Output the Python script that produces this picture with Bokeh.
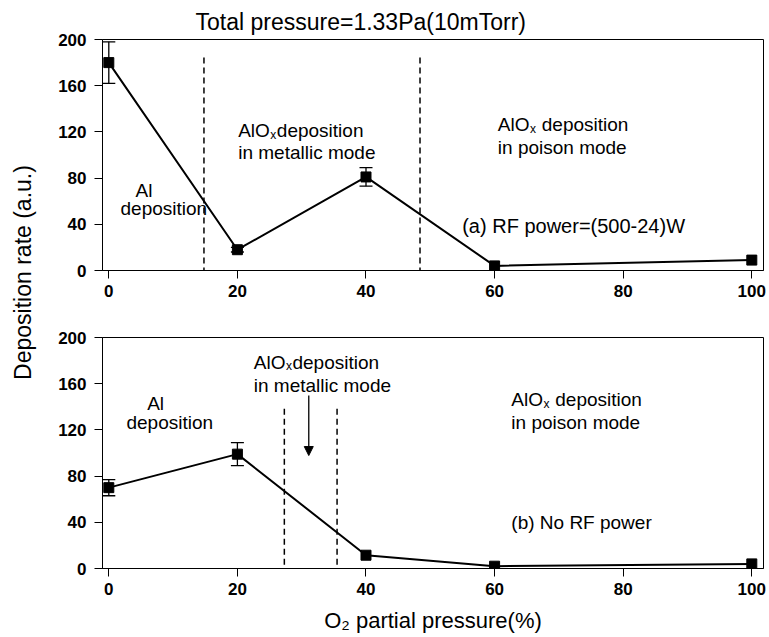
import math
from bokeh.plotting import figure
from bokeh.models import Range1d, Label, Whisker, TeeHead, ColumnDataSource, Arrow, NormalHead
from bokeh.layouts import row, column
from bokeh.embed import file_html
from bokeh.resources import INLINE

# ---- data ----
o2 = [0, 20, 40, 60, 100]
rate_a = [180, 18, 81, 4, 9]
err_a = [18, 2, 8, 0, 0]
rate_b = [70, 99, 11.5, 2, 4]
err_b = [7, 10, 0, 0, 0]
xticks = [0, 20, 40, 60, 80, 100]
yticks = [0, 40, 80, 120, 160, 200]
bounds_a = [14.8, 48.4]      # mode boundaries, panel (a)
bounds_b = [27.3, 35.5]      # mode boundaries, panel (b)

FONT = "Liberation Sans"
XR = (-0.98, 101.82)
W_LEFT = 44
W_MAIN = 725
BL, BR = 58, 6


def make_fig(height, btop, bbot):
    p = figure(width=W_MAIN, height=height, x_range=Range1d(*XR),
               y_range=Range1d(0, 200), output_backend="svg", toolbar_location=None,
               min_border_left=BL, min_border_right=BR, min_border_top=btop,
               min_border_bottom=bbot, background_fill_color="white",
               border_fill_color="white")
    p.xgrid.visible = False
    p.ygrid.visible = False
    p.outline_line_color = "black"
    p.outline_line_width = 1
    for ax in (p.xaxis[0], p.yaxis[0]):
        ax.axis_line_color = "black"
        ax.axis_line_width = 1
        ax.major_tick_in = 0
        ax.major_tick_out = 8
        ax.minor_tick_line_color = None
        ax.major_label_text_font = FONT
        ax.major_label_text_font_size = "17px"
        ax.major_label_text_font_style = "bold"
        ax.major_label_text_color = "black"
    p.xaxis.ticker = xticks
    p.yaxis.ticker = yticks
    p.xaxis.major_label_standoff = 6
    p.yaxis.major_label_standoff = 8
    return p


def draw_series(p, ys, errs):
    p.line(o2, ys, line_color="black", line_width=2)
    ex = [x for x, e in zip(o2, errs) if e > 0]
    ey = [y for y, e in zip(ys, errs) if e > 0]
    ee = [e for e in errs if e > 0]
    src = ColumnDataSource(dict(x=ex, upper=[y + e for y, e in zip(ey, ee)],
                                lower=[y - e for y, e in zip(ey, ee)]))
    p.add_layout(Whisker(source=src, base="x", upper="upper", lower="lower",
                         line_color="black", line_width=1.3,
                         upper_head=TeeHead(size=13, line_color="black", line_width=1.3),
                         lower_head=TeeHead(size=13, line_color="black", line_width=1.3)))
    p.scatter(o2, ys, marker="square", size=10, fill_color="black", line_color="black")


def txt(p, x, y, s, size=19, **kw):
    p.add_layout(Label(x=x, y=y, text=s, text_font=FONT, text_font_size=f"{size}px",
                       text_color="black", text_baseline="alphabetic", **kw))


def alox(p, x, y, space=False, size=19):
    w = 1.667 * size
    txt(p, x, y, "AlO", size)
    txt(p, x, y, "x", 12, x_offset=w + 0.5, y_offset=-4)
    off = w + 7 + (0.278 * size if space else 0)
    txt(p, x, y, "deposition", size, x_offset=off)


# ---- panel (a) ----
pa = make_fig(308, 39, 38)
pa.title.text = "Total pressure=1.33Pa(10mTorr)"
pa.title.text_font = FONT
pa.title.text_font_size = "23px"
pa.title.text_font_style = "normal"
pa.title.text_color = "black"
pa.title.align = "left"
pa.title.offset = 93
pa.title.standoff = 10
pa.segment(x0=bounds_a, y0=[184.5, 184.5], x1=bounds_a, y1=[0, 0],
           line_color="black", line_width=1.5, line_dash="6 4")
draw_series(pa, rate_a, err_a)
txt(pa, 4.15, 69.3, "Al")
txt(pa, 1.82, 53.4, "deposition")
alox(pa, 20.12, 120.8)
txt(pa, 20.12, 102.2, "in metallic mode")
alox(pa, 60.5, 126.4, space=True)
txt(pa, 60.5, 106.2, "in poison mode")
txt(pa, 54.96, 38.4, "(a) RF power=(500-24)W", 20)

# ---- panel (b) ----
pb = make_fig(329, 29, 69)
pb.segment(x0=bounds_b, y0=[138.4, 138.4], x1=bounds_b, y1=[0, 0],
           line_color="black", line_width=1.5, line_dash="6 4")
pb.add_layout(Arrow(x_start=31.1, y_start=149.7, x_end=31.1, y_end=97.8,
                    line_color="black", line_width=1.3,
                    end=NormalHead(size=9, fill_color="black", line_color="black")))
draw_series(pb, rate_b, err_b)
alox(pb, 22.55, 178.4)
txt(pb, 22.55, 158.3, "in metallic mode")
txt(pb, 5.97, 142.5, "Al")
txt(pb, 2.75, 126.6, "deposition")
alox(pb, 62.6, 146.2, space=True)
txt(pb, 62.6, 126.6, "in poison mode")
txt(pb, 62.6, 40.2, "(b) No RF power", 19)
pb.xaxis.axis_label = "O\u2082 partial pressure(%)"
pb.xaxis.axis_label_text_font = FONT
pb.xaxis.axis_label_text_font_size = "22px"
pb.xaxis.axis_label_text_font_style = "normal"
pb.xaxis.axis_label_text_color = "black"
pb.xaxis.axis_label_standoff = 10

# ---- shared y-axis title ----
total_h = 637
py = figure(width=W_LEFT, height=total_h, x_range=Range1d(0, W_LEFT), y_range=Range1d(0, total_h),
            output_backend="svg", toolbar_location=None, title=None,
            x_axis_type=None, y_axis_type=None, outline_line_color=None,
            min_border_left=0, min_border_right=0, min_border_top=0, min_border_bottom=0,
            background_fill_color="white", border_fill_color="white")
py.xgrid.visible = False
py.ygrid.visible = False
py.add_layout(Label(x=22, y=total_h - 272, text="Deposition rate (a.u.)", angle=math.pi / 2,
                    text_font=FONT, text_font_size="23px", text_color="black",
                    text_align="center", text_baseline="middle"))

layout = row(py, column(pa, pb))
open("out.html", "w").write(file_html(layout, INLINE))
